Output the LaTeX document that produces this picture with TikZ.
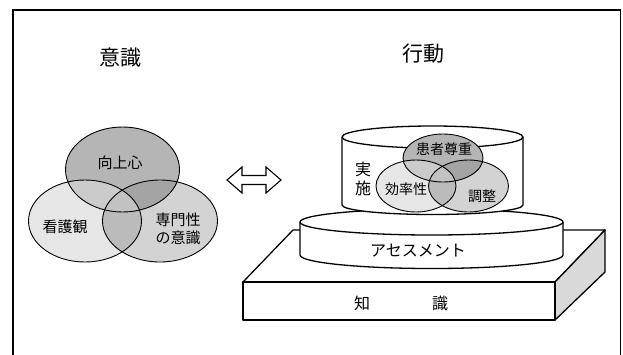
\documentclass[tikz,border=0pt]{standalone}
\usepackage{fontspec}
\setmainfont{Noto Sans CJK JP}
\definecolor{vA}{HTML}{E6E6E6}
\definecolor{vB}{HTML}{D3D3D3}
\definecolor{vC}{HTML}{B5B5B5}
\definecolor{vAC}{HTML}{CBCBCB}
\definecolor{vBC}{HTML}{A4A4A4}
\definecolor{vAB}{HTML}{BBBBBB}
\definecolor{vABC}{HTML}{C2C2C2}
\definecolor{sideg}{HTML}{D9D9D9}
\begin{document}
\begin{tikzpicture}[x=1pt,y=-1pt,
  frame/.style={line width=1.3pt},
  solid3d/.style={line width=1.3pt, fill=white, line join=round},
  vline/.style={line width=0.9pt},
  lbl/.style={inner sep=0pt, font=\fontsize{15}{18}\selectfont},
  title/.style={inner sep=0pt, font=\fontsize{21}{24}\selectfont},
  % left Venn
  eA/.style={insert path={(85,221) ellipse [x radius=56.5, y radius=41]}},
  eB/.style={insert path={(160,221) ellipse [x radius=57.5, y radius=41]}},
  eC/.style={insert path={(122.5,169.5) ellipse [x radius=57, y radius=42.5]}},
  % right Venn
  eE/.style={insert path={(416,186) ellipse [x radius=40, y radius=26]}},
  eF/.style={insert path={(468.5,186) ellipse [x radius=40, y radius=26]}},
  eD/.style={insert path={(443,158) ellipse [x radius=40, y radius=24]}}
]
\useasboundingbox (0,0) rectangle (623,354);
\draw[frame] (13,358) -- (13,10) -- (620.5,10) -- (620.5,358);

% titles
\node[title] (t1) at (120,57.5) {意識};
\node[title] (t2) at (423,53.5) {行動};

% ---------- left Venn ----------
\fill[vA, eA];
\fill[vB, eB];
\fill[vC, eC];
\begin{scope}\clip[eA]; \fill[vAC, eC];\end{scope}
\begin{scope}\clip[eC]; \fill[vBC, eB];\end{scope}
\begin{scope}\clip[eA]; \fill[vAB, eB];\end{scope}
\begin{scope}\clip[eA]; \clip[eC]; \fill[vABC, eB];\end{scope}
\draw[vline, eA];
\draw[vline, eB];
\draw[vline, eC];
\node[lbl] (kojo) at (120,163) {向上心};
\node[lbl] (kango) at (65,227) {看護観};
\node[lbl, align=center] (senmon) at (178,229) {専門性\\の意識};

% ---------- double arrow ----------
\draw[line width=1.1pt, fill=white, line join=miter]
  (227,180) -- (242,167) -- (242,175.5) -- (266,175.5) -- (266,167) -- (281,180)
  -- (266,193) -- (266,184.5) -- (242,184.5) -- (242,193) -- cycle;

% ---------- box (knowledge) ----------
\draw[solid3d] (243,282) -- (293,230) -- (605,230) -- (555,282) -- cycle;
\draw[solid3d, fill=sideg] (555,282) -- (605,230) -- (605,272) -- (555,320) -- cycle;
\draw[solid3d] (243,282) rectangle (555,320);
\node[lbl, font=\fontsize{16}{18}\selectfont] (chi) at (362,303) {知};
\node[lbl, font=\fontsize{16}{18}\selectfont] (shiki) at (440,303) {識};

% ---------- middle cylinder ----------
\draw[solid3d] (300,222) -- (300,255) arc[start angle=180, end angle=0, x radius=131.5, y radius=13.5] -- (563,222);
\draw[solid3d] (431.5,222) ellipse [x radius=131.5, y radius=13];
\node[lbl, font=\fontsize{16}{18}\selectfont] (assess) at (418,251) {アセスメント};

% ---------- top cylinder ----------
\draw[solid3d] (342,137) -- (342,205) arc[start angle=180, end angle=0, x radius=90.5, y radius=9.5] -- (523,137);
\draw[solid3d] (432.5,137) ellipse [x radius=90.5, y radius=11];
\node[lbl, font=\fontsize{16}{19}\selectfont, align=center] (jisshi) at (363,179) {実\\施};

% ---------- right Venn ----------
\fill[vA, eE];
\fill[vB, eF];
\fill[vC, eD];
\begin{scope}\clip[eE]; \fill[vAC, eD];\end{scope}
\begin{scope}\clip[eD]; \fill[vBC, eF];\end{scope}
\begin{scope}\clip[eE]; \fill[vAB, eF];\end{scope}
\begin{scope}\clip[eE]; \clip[eD]; \fill[vABC, eF];\end{scope}
\draw[vline, eE];
\draw[vline, eF];
\draw[vline, eD];
\node[lbl, font=\fontsize{14}{16}\selectfont] (kanja) at (444,149) {患者尊重};
\node[lbl, font=\fontsize{14}{16}\selectfont] (koritsu) at (406,189) {効率性};
\node[lbl, font=\fontsize{14}{16}\selectfont] (chosei) at (482,196) {調整};
\end{tikzpicture}
\end{document}
